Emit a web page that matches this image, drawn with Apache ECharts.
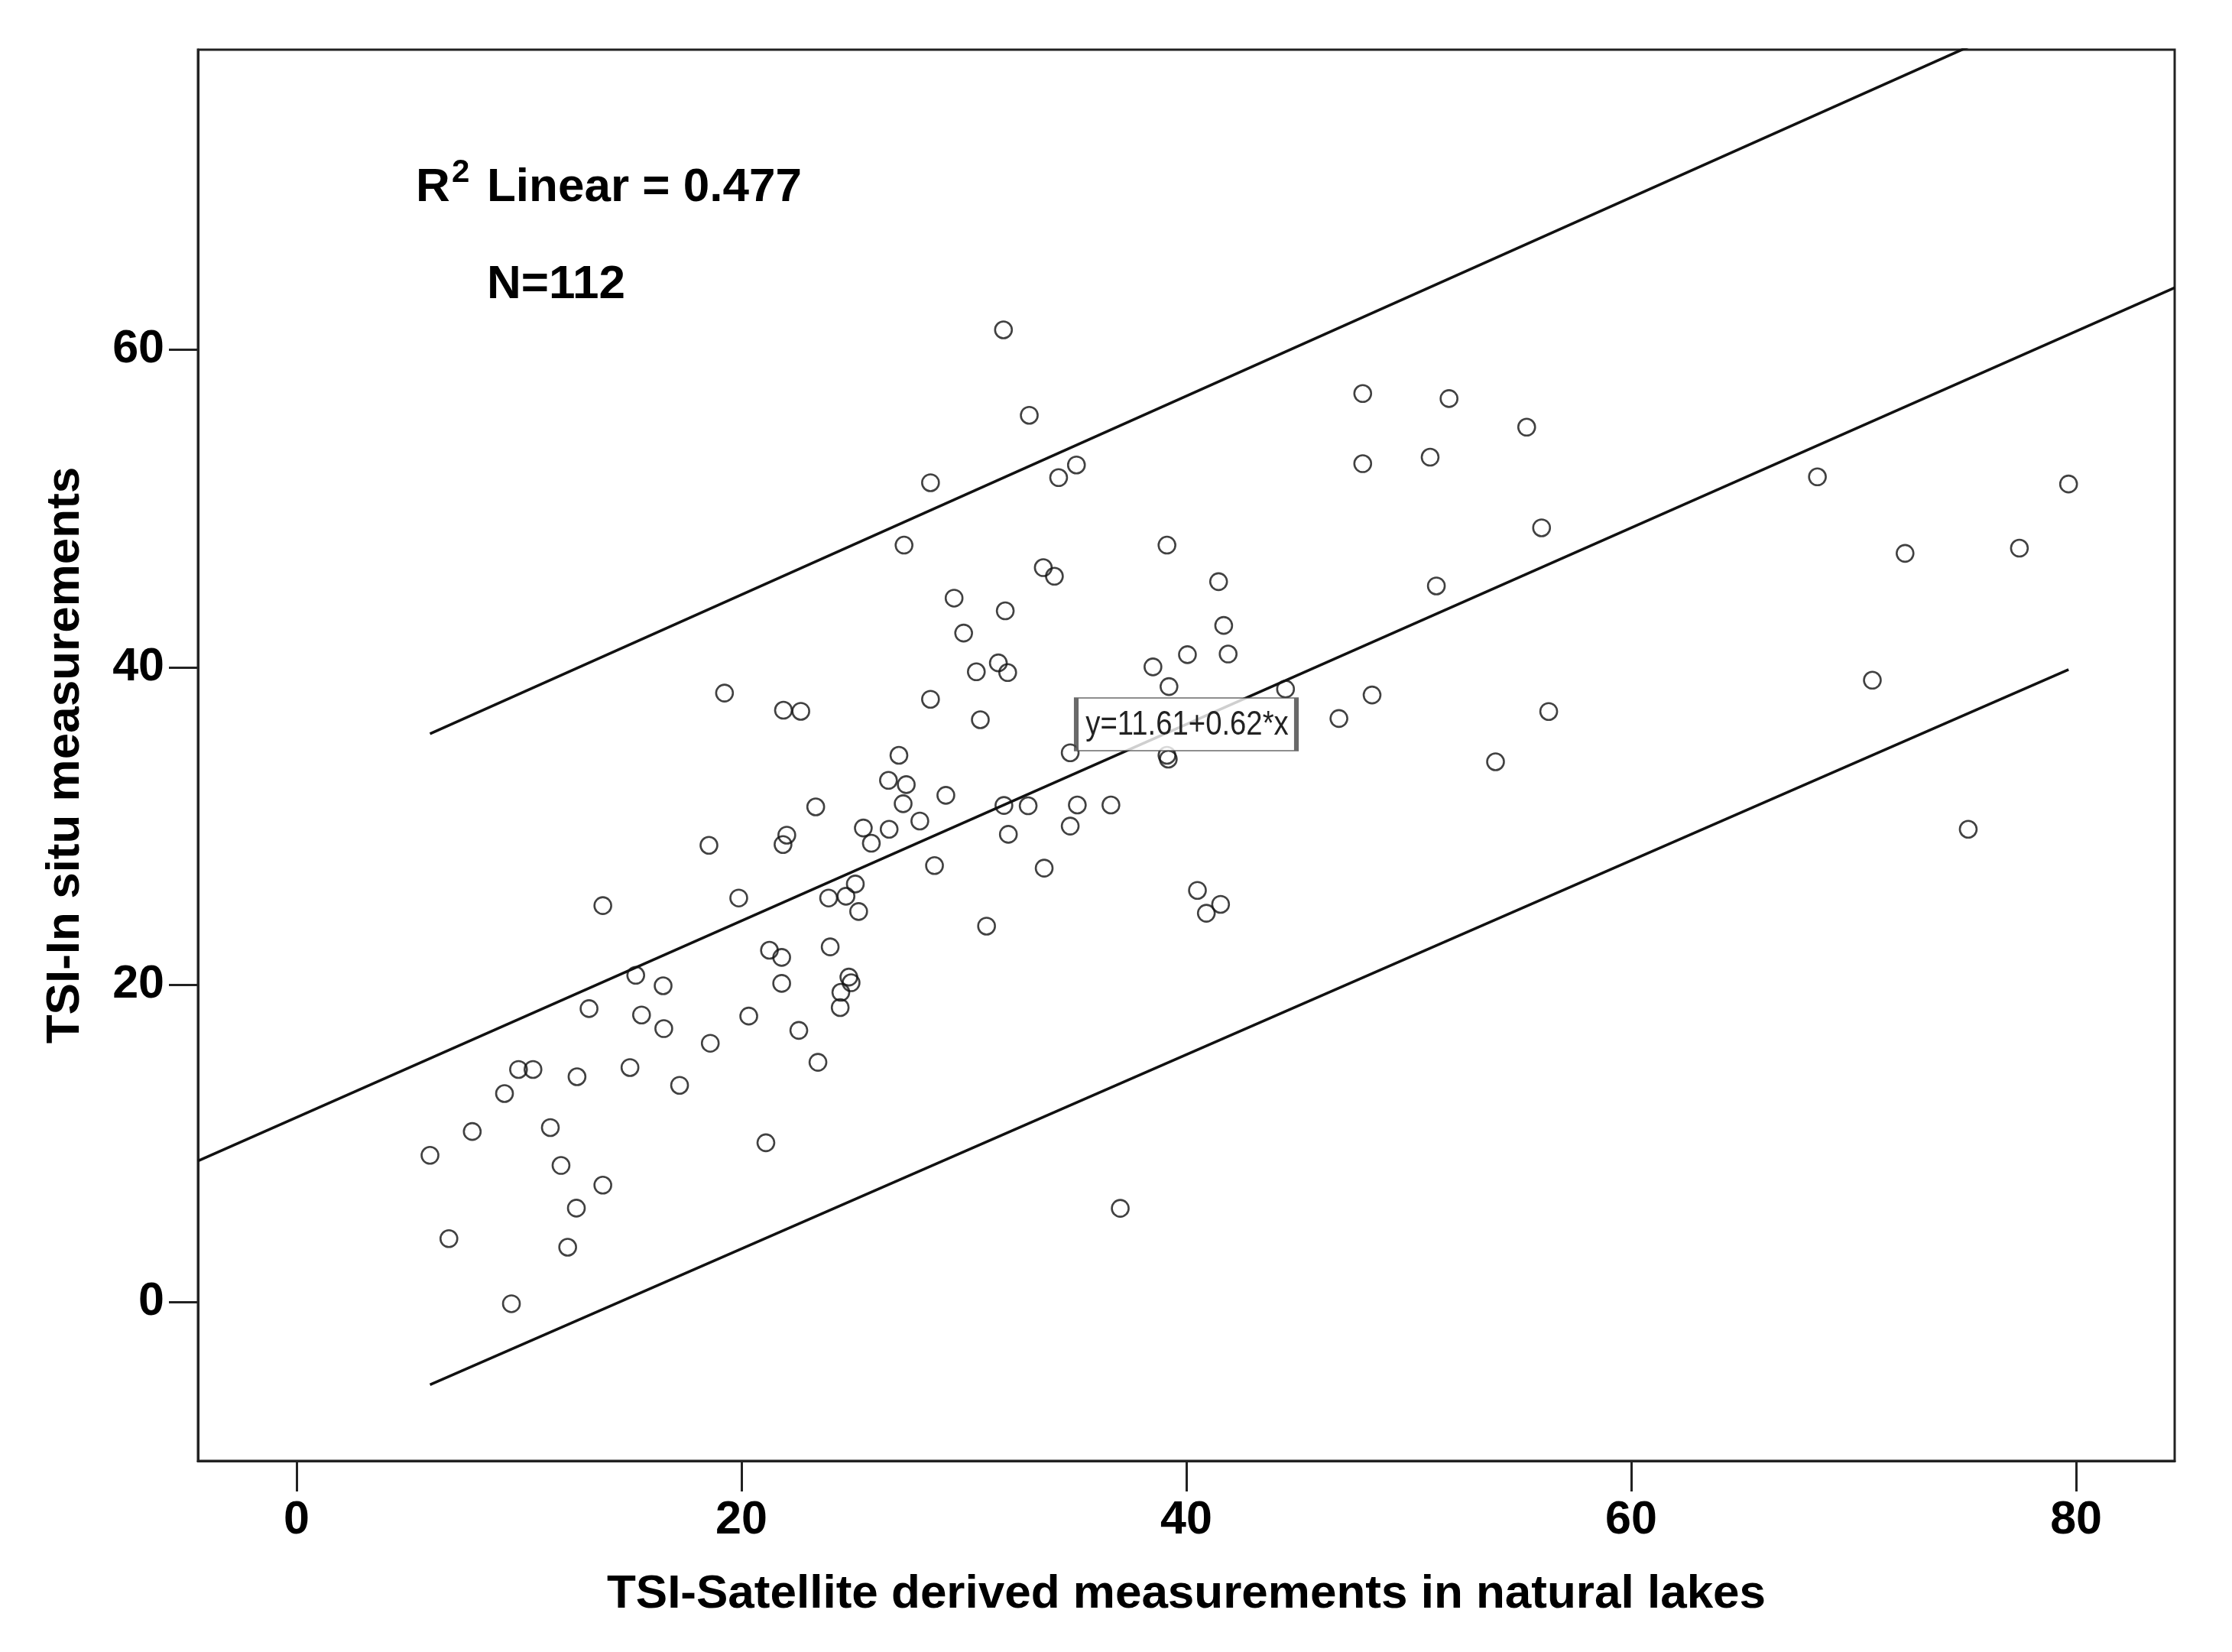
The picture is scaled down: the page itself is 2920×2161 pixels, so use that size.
<!doctype html>
<html>
    <head>
        <meta charset="utf-8">
        <title>TSI scatter</title>
        <style>
            html, body { margin: 0; padding: 0; background: #fff; }
            #main { width: 2920px; height: 2161px; }
        </style>
    </head>
    <body>
        <div id="main"></div>
        <script src="https://cdn.jsdelivr.net/npm/echarts@6.0.0/dist/echarts.min.js"></script>
        <script>
            // TSI - satellite derived (x) vs in situ (y), one entry per lake
            var satellite = [
                6.0, 6.85, 7.9, 9.35, 9.66, 9.98, 10.63, 11.41, 11.89, 12.19,
                12.58, 12.61, 13.15, 13.77, 13.77, 14.99, 15.25, 15.51, 16.48, 16.51,
                17.22, 18.54, 18.6, 19.24, 19.88, 20.33, 21.1, 21.26, 21.81, 21.81,
                21.89, 21.87, 22.04, 22.67, 22.58, 23.34, 23.44, 23.99, 23.92, 24.44,
                24.47, 24.83, 24.93, 24.7, 25.12, 25.27, 25.48, 25.84, 26.61, 26.64,
                27.08, 27.41, 27.27, 27.31, 28.02, 28.5, 28.5, 28.68, 29.19, 29.56,
                29.99, 30.56, 30.74, 31.02, 31.55, 31.78, 31.86, 31.8, 31.97, 32.0,
                32.94, 32.89, 33.61, 33.57, 34.07, 34.26, 34.78, 34.78, 35.06, 35.1,
                36.61, 37.03, 38.5, 39.13, 39.19, 39.13, 39.22, 40.05, 40.5, 40.9,
                41.45, 41.54, 41.68, 41.88, 44.46, 46.86, 47.93, 47.93, 48.35, 50.96,
                51.24, 51.81, 53.9, 55.3, 55.97, 56.29, 68.37, 70.84, 72.31, 75.15,
                77.45, 79.66
            ];
            var inSitu = [
                9.25, 4.0, 10.75, 13.14, -0.1, 14.66, 14.66, 11.0, 8.61, 3.46,
                5.92, 14.2, 18.49, 7.37, 24.98, 14.78, 20.59, 18.09, 19.93, 17.23,
                13.66, 28.78, 16.31, 38.37, 25.46, 18.02, 10.04, 22.17, 20.08, 21.72,
                37.29, 28.83, 29.42, 37.22, 17.12, 31.2, 15.11, 22.38, 25.46, 18.56,
                19.52, 20.48, 20.12, 25.57, 26.34, 24.61, 29.87, 28.91, 32.87, 29.79,
                34.45, 32.6, 31.4, 47.69, 30.31, 51.62, 37.98, 27.5, 31.93, 44.35,
                42.15, 39.71, 36.69, 23.69, 40.27, 61.25, 43.55, 31.29, 39.66, 29.47,
                55.87, 31.27, 27.34, 46.27, 45.73, 51.94, 29.99, 34.61, 52.74, 31.32,
                31.32, 5.91, 40.02, 34.45, 34.21, 47.69, 38.78, 40.79, 25.94, 24.5,
                45.39, 25.06, 42.63, 40.83, 38.62, 36.77, 57.24, 52.82, 38.25, 53.23,
                45.12, 56.92, 34.04, 55.12, 48.78, 37.21, 51.99, 39.18, 47.17, 29.79,
                47.5, 51.54
            ];

            // fit line and 95% prediction limits, end points
            var fitLine = [[-4.43, 8.9], [84.43, 63.9]];
            var upperLimit = [[6.0, 35.8], [79.66, 81.9]];
            var lowerLimit = [[6.0, -5.2], [79.66, 39.85]];

            var xTicks = [0, 20, 40, 60, 80];
            var yTicks = [0, 20, 40, 60];
            var eqAnchor = [[40, 36.4]];
            var eqText = 'y=11.61+0.62*x';

            var points = satellite.map(function (x, i) {
                return [x, inSitu[i]];
            });

            var boldFont = 'Liberation Sans';
            var ink = '#111';

            function limitSeries(data) {
                return {
                    type: 'line',
                    data: data,
                    symbol: 'none',
                    clip: true,
                    silent: true,
                    lineStyle: { color: ink, width: 3.6 },
                    z: 3
                };
            }

            function note(text, x, y, size) {
                return {
                    type: 'text', x: x, y: y, z: 20,
                    style: {
                        text: text, fill: '#000',
                        font: 'bold ' + size + 'px "Liberation Sans"',
                        textAlign: 'left', align: 'left',
                        textVerticalAlign: 'middle', verticalAlign: 'middle'
                    }
                };
            }

            var chart = echarts.init(document.getElementById('main'));

            chart.setOption({
                animation: false,
                backgroundColor: '#fff',
                grid: {
                    left: 259,
                    top: 65,
                    right: 75,
                    bottom: 250,
                    show: true,
                    borderColor: '#222',
                    borderWidth: 3
                },
                xAxis: {
                    type: 'value',
                    min: -4.43,
                    max: 84.43,
                    name: 'TSI-Satellite derived measurements in natural lakes',
                    nameLocation: 'middle',
                    nameGap: 144,
                    nameTextStyle: {
                        fontFamily: boldFont, fontWeight: 'bold', fontSize: 62, color: '#000'
                    },
                    axisLine: { show: true, onZero: false, lineStyle: { color: '#222', width: 3 } },
                    axisTick: {
                        show: true, length: 40, customValues: xTicks,
                        lineStyle: { color: '#222', width: 3 }
                    },
                    axisLabel: {
                        customValues: xTicks,
                        margin: 48,
                        fontFamily: boldFont, fontWeight: 'bold', fontSize: 61, color: '#000'
                    },
                    splitLine: { show: false }
                },
                yAxis: {
                    type: 'value',
                    min: -10,
                    max: 78.9,
                    name: 'TSI-In situ measurements',
                    nameLocation: 'middle',
                    nameGap: 142,
                    nameTextStyle: {
                        fontFamily: boldFont, fontWeight: 'bold', fontSize: 62, color: '#000'
                    },
                    axisLine: { show: true, onZero: false, lineStyle: { color: '#222', width: 3 } },
                    axisTick: {
                        show: true, length: 38, customValues: yTicks,
                        lineStyle: { color: '#222', width: 3 }
                    },
                    axisLabel: {
                        customValues: yTicks,
                        margin: 44,
                        padding: [14, 0, 0, 0],
                        fontFamily: boldFont, fontWeight: 'bold', fontSize: 61, color: '#000'
                    },
                    splitLine: { show: false }
                },
                series: [
                    {
                        type: 'scatter',
                        data: points,
                        symbol: 'circle',
                        symbolSize: 22,
                        itemStyle: {
                            color: 'rgba(0,0,0,0)',
                            borderColor: ink,
                            borderWidth: 2.6
                        },
                        z: 2
                    },
                    limitSeries(fitLine),
                    limitSeries(upperLimit),
                    limitSeries(lowerLimit),
                    {
                        // white box for the equation, sitting on the fit line
                        type: 'scatter',
                        data: eqAnchor,
                        symbol: 'rect',
                        symbolSize: [288, 69],
                        silent: true,
                        itemStyle: {
                            color: '#fff',
                            borderColor: '#444',
                            borderWidth: 3
                        },
                        z: 10
                    }
                ]
            });

            // equation text is narrow in the original, so squeeze it a little
            var eqPos = chart.convertToPixel({ gridIndex: 0 }, eqAnchor[0]);

            chart.setOption({
                graphic: [
                    note('R', 544, 246, 62),
                    note('2', 591, 226, 42),
                    note('Linear = 0.477', 637, 246, 62),
                    note('N=112', 637, 373, 62),
                    {
                        type: 'text', x: eqPos[0] + 1, y: eqPos[1] + 1, z: 30,
                        scaleX: 0.87,
                        style: {
                            text: eqText, fill: '#222',
                            font: '44px "Liberation Sans"',
                            textAlign: 'center', align: 'center',
                            textVerticalAlign: 'middle', verticalAlign: 'middle'
                        }
                    }
                ]
            });

            window.addEventListener('resize', function () {
                chart.resize();
            });
        </script>
    </body>
</html>
